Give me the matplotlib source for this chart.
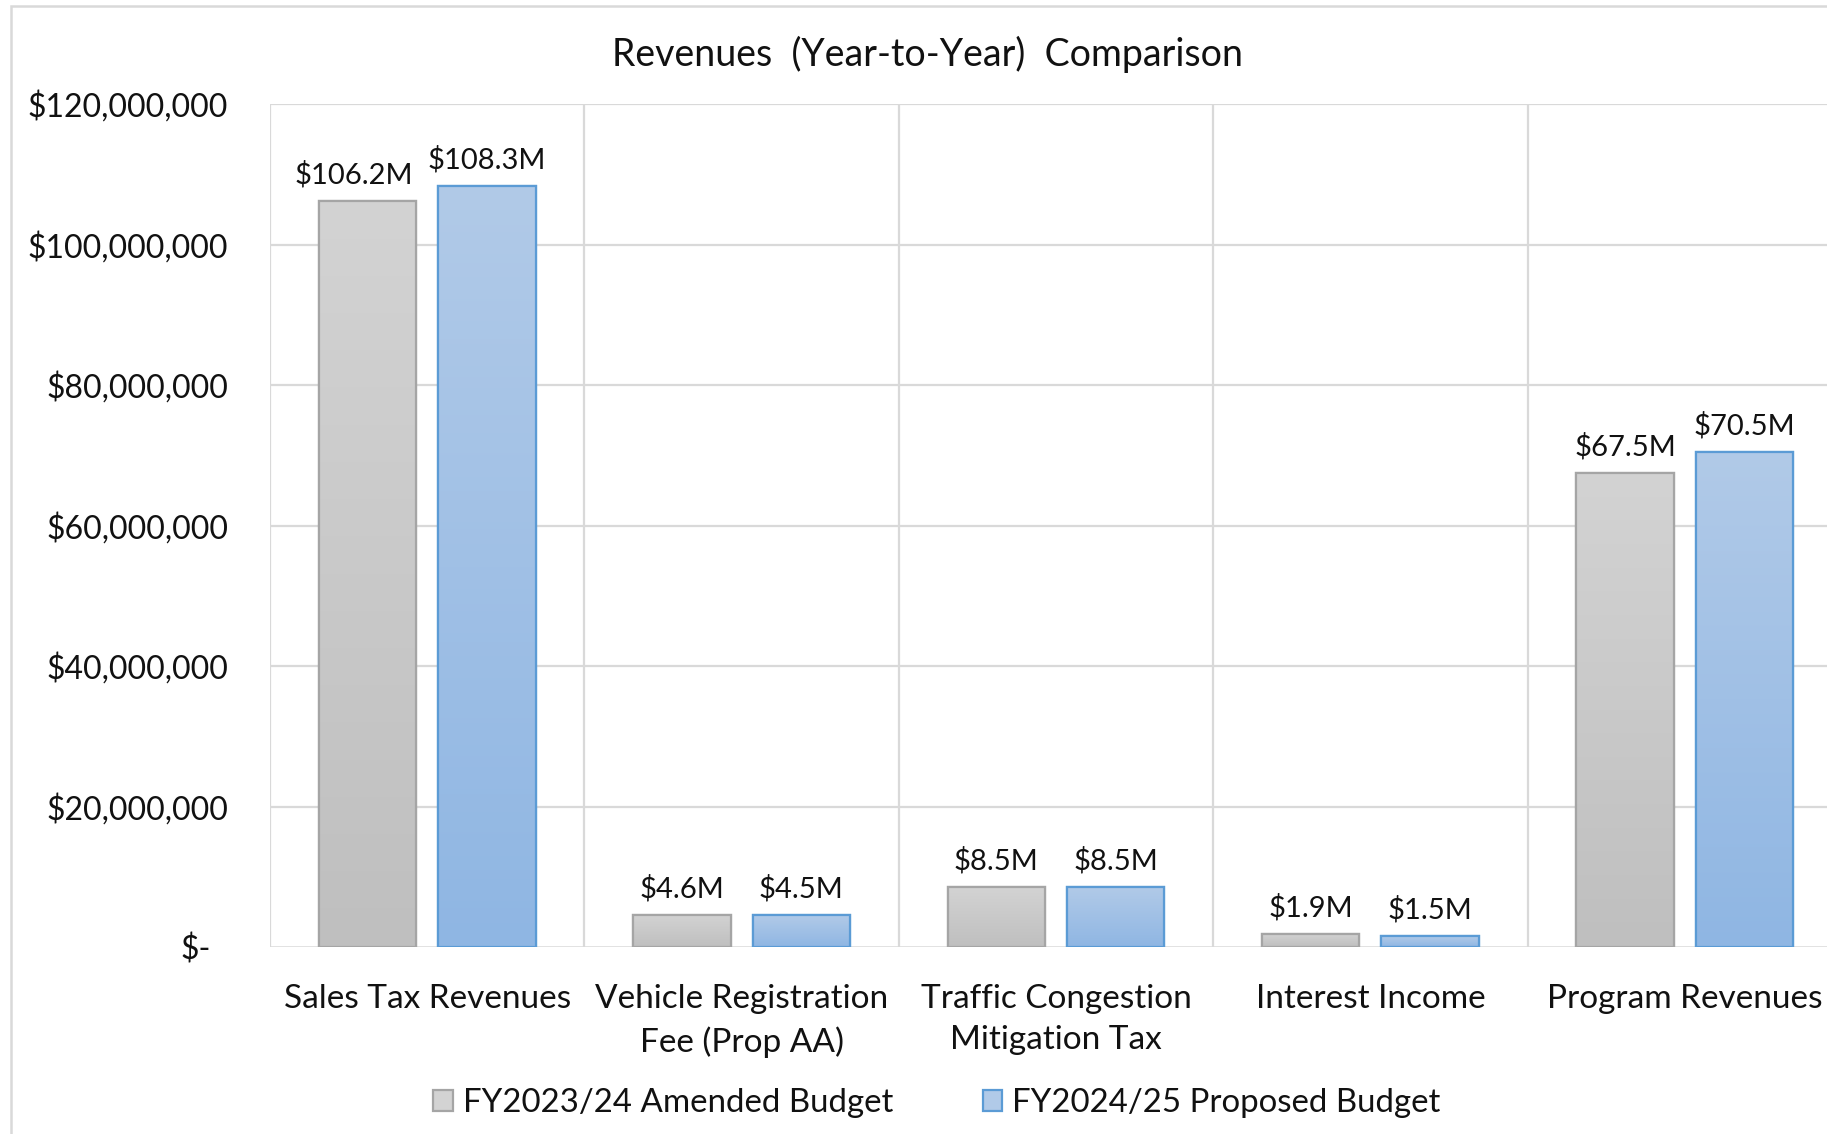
import numpy as np
import matplotlib
matplotlib.use("Agg")
import matplotlib.pyplot as plt
import matplotlib.transforms as mtrans
from matplotlib.patches import Rectangle
from matplotlib.colors import LinearSegmentedColormap

plt.rcParams['font.family'] = ['Lato', 'DejaVu Sans']

# values in millions of dollars
categories = ["Sales Tax Revenues", "Vehicle Registration\nFee (Prop AA)",
              "Traffic Congestion\nMitigation Tax", "Interest Income", "Program Revenues"]
fy2324 = [106.2, 4.6, 8.5, 1.9, 67.5]
fy2425 = [108.3, 4.5, 8.5, 1.5, 70.5]
series_names = ["FY2023/24 Amended Budget", "FY2024/25 Proposed Budget"]
yticks = [0, 20, 40, 60, 80, 100, 120]
ytick_labels = ["$-", "$20,000,000", "$40,000,000", "$60,000,000",
                "$80,000,000", "$100,000,000", "$120,000,000"]

W, H = 1827, 1134
fig = plt.figure(figsize=(W / 100, H / 100), dpi=100)
ax = fig.add_axes([270 / W, 187 / H, (1842 - 270) / W, (947 - 104) / H])

grid_c = "#d9d9d9"
styles = [
    dict(top="#d3d3d3", bot="#bfbfbf", edge="#a5a5a5"),
    dict(top="#b1cae8", bot="#8fb6e3", edge="#5b9bd5"),
]
bw = 0.31
offs = [-0.19, 0.19]
x = np.arange(len(categories))

for s, vals in enumerate([fy2324, fy2425]):
    st = styles[s]
    cmap = LinearSegmentedColormap.from_list("g%d" % s, [st["bot"], st["top"]])
    bars = ax.bar(x + offs[s], vals, bw, color=st["top"], edgecolor=st["edge"],
                  linewidth=1.6, zorder=3, label=series_names[s])
    for i, (b, v) in enumerate(zip(bars, vals)):
        x0 = b.get_x()
        grad = np.linspace(0, 1, 256).reshape(-1, 1)
        im = ax.imshow(grad, extent=[x0, x0 + bw, 0, v], origin="lower",
                       aspect="auto", cmap=cmap, zorder=3.5, interpolation="bilinear")
        im.set_clip_path(b)
        ax.add_patch(Rectangle((x0, 0), bw, v, fill=False, edgecolor=st["edge"],
                               linewidth=1.6, zorder=4))
        # Excel nudged the first label left so it does not touch its neighbour
        dx = -10 if (s == 0 and i == 0) else 0
        ax.annotate("$%.1fM" % v, (x0 + bw / 2, v), xytext=(dx, 9),
                    textcoords="offset points", ha="center", va="bottom",
                    fontsize=21, color="#111111")

ax.set_xlim(-0.5, len(categories) - 0.5)
ax.set_ylim(0, 120)
ax.set_yticks(yticks)
ax.set_yticklabels(ytick_labels, fontsize=23)
ax.set_xticks(x)
ax.set_xticklabels(categories, fontsize=24, linespacing=1.45)
ax.tick_params(axis="both", length=0, colors="#111111")
ax.tick_params(axis="y", pad=30)
ax.tick_params(axis="x", pad=27)
# shift "$-" label like the accounting format does
lbl0 = ax.get_yticklabels()[0]
lbl0.set_transform(lbl0.get_transform() + mtrans.ScaledTranslation(-17 / 100, 0, fig.dpi_scale_trans))

for yv in yticks[1:]:
    ax.axhline(yv, color=grid_c, lw=1.6, zorder=1)
for xb in np.arange(-0.5, len(categories), 1.0):
    ax.axvline(xb, color=grid_c, lw=1.6, zorder=1)
for sp in ax.spines.values():
    sp.set_visible(False)
ax.axhline(0, color=grid_c, lw=1.8, zorder=2)

fig.text(927 / W, 1 - 54 / H, "Revenues  (Year-to-Year)  Comparison",
         ha="center", va="center", fontsize=27, color="#111111")

leg = fig.legend(loc="center", bbox_to_anchor=(937 / W, 31 / H), ncol=2,
                 frameon=False, fontsize=23.8, handlelength=0.6, handleheight=0.6,
                 handletextpad=0.3, columnspacing=2.7)
for t in leg.get_texts():
    t.set_color("#111111")

# outer chart frame (cropped on right and bottom)
fig.patches.append(Rectangle((11 / W, -0.2), 1.3, 1.2 - 6 / H,
                             transform=fig.transFigure, fill=False,
                             edgecolor=grid_c, linewidth=1.8))

fig.savefig("out.png", dpi=100)
